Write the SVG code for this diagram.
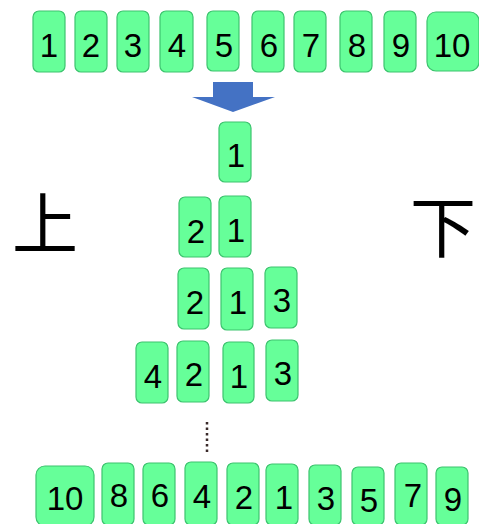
<svg xmlns="http://www.w3.org/2000/svg" width="479" height="524" viewBox="0 0 479 524">
<style>
.b rect{fill:#66FF99;stroke:#3CC36E;stroke-width:1.2}
.b text{font-family:"Liberation Sans","DejaVu Sans",sans-serif;font-size:33px;fill:#000;text-anchor:middle}
.k{font-family:"Noto Sans CJK SC","Noto Sans CJK JP",sans-serif;font-size:66px;fill:#000}
</style>
<rect width="479" height="524" fill="#fff"/>
<!-- top row -->
<g class="b" id="t1"><rect x="33" y="11" width="32" height="61" rx="6"/><text x="49" y="57">1</text></g>
<g class="b" id="t2"><rect x="75" y="11" width="32" height="61" rx="6"/><text x="91" y="57">2</text></g>
<g class="b" id="t3"><rect x="117" y="11" width="32" height="61" rx="6"/><text x="133" y="57">3</text></g>
<g class="b" id="t4"><rect x="160" y="11" width="33" height="61" rx="6"/><text x="177" y="57">4</text></g>
<g class="b" id="t5"><rect x="207" y="11" width="32" height="60" rx="6"/><text x="224" y="57">5</text></g>
<g class="b" id="t6"><rect x="252" y="11" width="32" height="61" rx="6"/><text x="269" y="57">6</text></g>
<g class="b" id="t7"><rect x="294" y="11" width="32" height="61" rx="6"/><text x="311" y="57">7</text></g>
<g class="b" id="t8"><rect x="340" y="11" width="32" height="61" rx="6"/><text x="357" y="57">8</text></g>
<g class="b" id="t9"><rect x="384" y="11" width="32" height="61" rx="6"/><text x="401" y="57">9</text></g>
<g class="b" id="t10"><rect x="427" y="12" width="52" height="59" rx="9"/><text x="452" y="57">10</text></g>
<!-- arrow -->
<g id="arrow"><polygon points="213,82 253,82 253,97 275,97 233,112 192,97 213,97" fill="#4472C4"/></g>
<!-- stack rows -->
<g class="b" id="r1a"><rect x="219" y="122" width="32" height="60" rx="6"/><text x="236" y="167">1</text></g>
<g class="b" id="r2b"><rect x="179" y="197" width="32" height="60" rx="6"/><text x="196" y="243">2</text></g>
<g class="b" id="r2a"><rect x="219" y="196" width="32" height="61" rx="6"/><text x="236" y="242">1</text></g>
<g class="b" id="r3b"><rect x="178" y="268" width="31" height="61" rx="6"/><text x="195" y="314">2</text></g>
<g class="b" id="r3a"><rect x="221" y="268" width="32" height="62" rx="6"/><text x="238" y="314">1</text></g>
<g class="b" id="r3c"><rect x="265" y="267" width="32" height="61" rx="6"/><text x="282" y="312">3</text></g>
<g class="b" id="r4d"><rect x="136" y="342" width="32" height="61" rx="6"/><text x="153" y="388">4</text></g>
<g class="b" id="r4b"><rect x="177" y="341" width="32" height="61" rx="6"/><text x="194" y="386">2</text></g>
<g class="b" id="r4a"><rect x="223" y="342" width="31" height="61" rx="6"/><text x="239" y="388">1</text></g>
<g class="b" id="r4c"><rect x="266" y="340" width="32" height="61" rx="6"/><text x="283" y="385">3</text></g>
<!-- side labels -->
<text class="k" x="12" y="248">上</text>
<text class="k" x="410" y="252">下</text>
<!-- dotted -->
<g id="connectors"><line x1="207" y1="422" x2="207" y2="455" stroke="#3a2a2a" stroke-width="2.5" stroke-dasharray="2.5 3"/></g>
<!-- bottom row -->
<g class="b" id="b10"><rect x="36" y="466" width="58" height="60" rx="9"/><text x="65" y="510">10</text></g>
<g class="b" id="b8"><rect x="102" y="463" width="32" height="62" rx="6"/><text x="119" y="507">8</text></g>
<g class="b" id="b6"><rect x="143" y="463" width="32" height="62" rx="6"/><text x="160" y="507">6</text></g>
<g class="b" id="b4"><rect x="185" y="462" width="32" height="63" rx="6"/><text x="202" y="508">4</text></g>
<g class="b" id="b2"><rect x="227" y="463" width="32" height="62" rx="6"/><text x="244" y="509">2</text></g>
<g class="b" id="b1"><rect x="266" y="464" width="32" height="61" rx="6"/><text x="284" y="509">1</text></g>
<g class="b" id="b3"><rect x="309" y="465" width="32" height="60" rx="6"/><text x="326" y="510">3</text></g>
<g class="b" id="b5"><rect x="352" y="467" width="32" height="58" rx="6"/><text x="369" y="512">5</text></g>
<g class="b" id="b7"><rect x="395" y="463" width="32" height="62" rx="6"/><text x="413" y="507">7</text></g>
<g class="b" id="b9"><rect x="436" y="467" width="32" height="58" rx="6"/><text x="453" y="511">9</text></g>
</svg>
